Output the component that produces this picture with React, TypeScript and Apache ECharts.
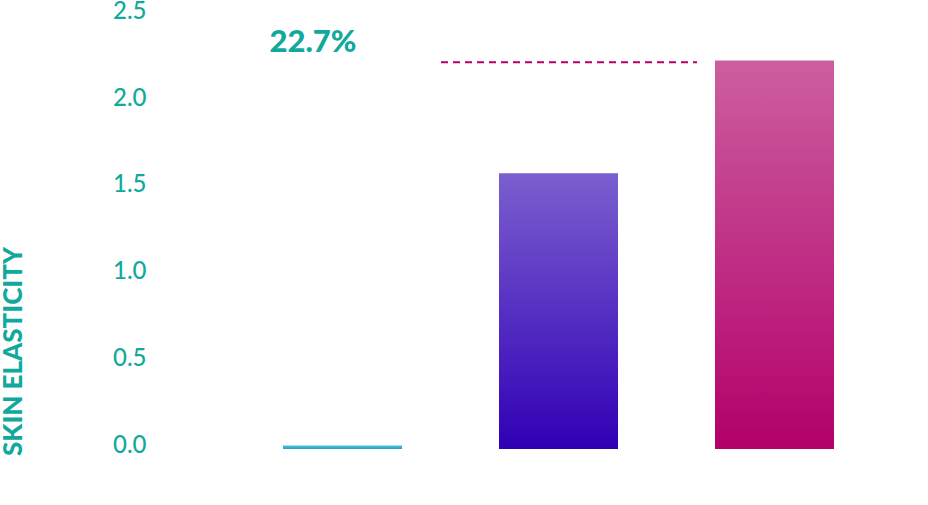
import React, { useEffect, useRef } from "react";
import * as echarts from "echarts";

const categories = ["Baseline", "Product A", "Product B"];
const values = [0.02, 1.59, 2.24];
const yTicks = { min: 0, max: 2.5, interval: 0.5 };
const refLineValue = 2.23;
const deltaLabel = "22.7%";
const axisTitle = "SKIN ELASTICITY";

const TEAL = "#11a99c";

const gradients = [
  ["#45c6e6", "#2a9db8"],
  ["#7b5fcf", "#3000b5"],
  ["#cc5e9f", "#b3006a"],
];

export default function App() {
  const ref = useRef<HTMLDivElement>(null);
  useEffect(() => {
    document.body.style.margin = "0";
    if (!ref.current) return;
    const chart = echarts.init(ref.current, null, { renderer: "svg" });
    chart.setOption({
      animation: false,
      grid: {
        left: 234.5,
        right: 45.5,
        top: 15.5,
        bottom: 56,
        containLabel: false,
        outerBoundsMode: "none",
      },
      xAxis: {
        type: "category",
        data: categories,
        axisLine: { show: false },
        axisTick: { show: false },
        axisLabel: { show: false },
        splitLine: { show: false },
      },
      yAxis: {
        type: "value",
        min: yTicks.min,
        max: yTicks.max,
        interval: yTicks.interval,
        axisLine: { show: false },
        axisTick: { show: false },
        splitLine: { show: false },
        axisLabel: {
          formatter: (v: number) => v.toFixed(1),
          color: TEAL,
          fontFamily: "Lato",
          fontSize: 24,
          fontWeight: 500,
          margin: 88,
          verticalAlign: "bottom",
          lineHeight: 12,
        },
      },
      series: [
        {
          type: "bar",
          barWidth: 119,
          data: values.map((v, i) => ({
            value: v,
            itemStyle: {
              color: new echarts.graphic.LinearGradient(0, 0, 0, 1, [
                { offset: 0, color: gradients[i][0] },
                { offset: 1, color: gradients[i][1] },
              ]),
            },
          })),
        },
      ],
    });
    const y = chart.convertToPixel({ yAxisIndex: 0 }, refLineValue) as number;
    chart.setOption({
      graphic: [
        {
          type: "line",
          shape: { x1: 441, y1: y, x2: 697, y2: y },
          style: { stroke: "#b8006b", lineWidth: 2, lineDash: [7, 5] },
        },
        {
          type: "text",
          x: 313,
          y: 40,
          style: {
            text: deltaLabel,
            fill: TEAL,
            font: "900 31px Lato",
            align: "center",
            verticalAlign: "middle",
          },
        },
        {
          type: "text",
          x: 12,
          y: 351.5,
          rotation: Math.PI / 2,
          style: {
            text: axisTitle,
            fill: TEAL,
            font: "900 26px Lato",
            align: "center",
            verticalAlign: "middle",
          },
        },
      ],
    });
    return () => chart.dispose();
  }, []);
  return <div ref={ref} style={{ width: 928, height: 505 }} />;
}
